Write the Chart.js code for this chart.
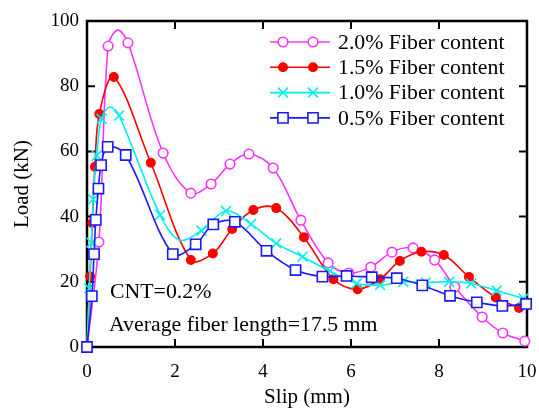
<!DOCTYPE html>
<html>
<head>
<meta charset="utf-8">
<script src="https://cdn.jsdelivr.net/npm/chart.js@4.4.0/dist/chart.umd.min.js"></script>
<style>
  html, body { margin: 0; padding: 0; background: #fff; }
  #wrap { width: 539px; height: 412px; }
</style>
</head>
<body>
<div id="wrap"><canvas id="chart" width="539" height="412"></canvas></div>
<script>
// values
const seriesNames = ['2.0% Fiber content', '1.5% Fiber content', '1.0% Fiber content', '0.5% Fiber content'];

const slip20 = [0, 0.27, 0.48, 0.7, 0.93, 1.73, 2.36, 2.82, 3.25, 3.68, 4.23, 4.86, 5.48, 5.95, 6.45, 6.93, 7.41, 7.9, 8.36, 8.98, 9.45, 9.95];
const load20 = [0, 32.2, 92.3, 97.2, 93.3, 59.5, 47.2, 50, 56.1, 59.2, 54.9, 38.9, 25.8, 22.7, 24.5, 29.1, 30.4, 26.7, 18.4, 9.2, 4.3, 1.8];
const plain20 = [0, 3]; // points on the curve without a marker

const slip15 = [0, 0.07, 0.12, 0.18, 0.28, 0.61, 1.45, 2.36, 2.86, 3.3, 3.78, 4.3, 4.93, 5.6, 6.15, 6.66, 7.11, 7.6, 8.11, 8.68, 9.29, 9.82];
const load15 = [0, 21.6, 38, 55.3, 71.5, 82.8, 56.5, 26.7, 28.7, 36.2, 42, 42.6, 33.7, 20.8, 17.7, 20.8, 26.4, 29.2, 28.2, 21.5, 15.2, 12];
const plain15 = [0];

const slip10 = [0, 0.05, 0.1, 0.14, 0.22, 0.33, 0.52, 0.73, 1.66, 2.1, 2.6, 3.16, 3.73, 4.3, 4.9, 5.52, 6.13, 6.66, 7.19, 7.7, 8.23, 8.73, 9.31, 9.92];
const load10 = [0, 18, 32, 45.3, 58.7, 70, 73.6, 71, 40.5, 32.8, 35.7, 41.7, 37.7, 31.8, 27.7, 23.3, 19.5, 19, 20, 19.8, 20, 19.5, 17.3, 14.9];
const plain10 = [0, 6, 9];

const slip05 = [0, 0.11, 0.16, 0.2, 0.26, 0.32, 0.47, 0.88, 1.95, 2.47, 2.87, 3.36, 4.08, 4.74, 5.35, 5.9, 6.47, 7.04, 7.62, 8.25, 8.86, 9.44, 9.98];
const load05 = [0, 15.6, 28.5, 39, 48.6, 55.8, 61.4, 58.9, 28.5, 31.5, 37.6, 38.4, 29.5, 23.6, 21.6, 21.8, 21.4, 21.1, 18.9, 15.7, 13.7, 12.6, 13.2];
const plain05 = [];

const xTicks = [0, 2, 4, 6, 8, 10];
const yTicks = [0, 20, 40, 60, 80, 100];

const serif = "'Liberation Serif', 'Times New Roman', serif";

function pts(xs, ys) {
  return xs.map((x, i) => ({ x: x, y: ys[i] }));
}

function markerRadius(plain, r) {
  return ctx => plain.includes(ctx.dataIndex) ? 0 : r;
}

const styles = [
  { color: '#ff33ff', pointStyle: 'circle', radius: 4.8, fill: '#ffffff', plain: plain20, xs: slip20, ys: load20, order: 3 },
  { color: '#ff0000', pointStyle: 'circle', radius: 4.2, fill: '#ff0000', plain: plain15, xs: slip15, ys: load15, order: 2 },
  { color: '#00f0f0', pointStyle: 'crossRot', radius: 7, fill: '#00f0f0', plain: plain10, xs: slip10, ys: load10, order: 1 },
  { color: '#1a1aff', pointStyle: 'rect', radius: 7.2, fill: '#ffffff', plain: plain05, xs: slip05, ys: load05, order: 0 }
];

const datasets = styles.map((s, i) => ({
  label: seriesNames[i],
  data: pts(s.xs, s.ys),
  borderColor: s.color,
  borderWidth: 1.6,
  backgroundColor: s.fill,
  pointStyle: s.pointStyle,
  pointRadius: markerRadius(s.plain, s.radius),
  pointBorderColor: s.color,
  pointBackgroundColor: s.fill,
  pointBorderWidth: 1.6,
  tension: 0.35,
  clip: false,
  order: s.order
}));

function drawMarker(ctx, s, x, y) {
  ctx.save();
  ctx.strokeStyle = s.color;
  ctx.fillStyle = s.fill;
  ctx.lineWidth = 1.6;
  ctx.beginPath();
  if (s.pointStyle === 'circle') {
    ctx.arc(x, y, s.radius, 0, Math.PI * 2);
    ctx.fill();
    ctx.stroke();
  } else if (s.pointStyle === 'rect') {
    const h = s.radius * Math.SQRT1_2;
    ctx.rect(x - h, y - h, 2 * h, 2 * h);
    ctx.fill();
    ctx.stroke();
  } else {
    const h = s.radius * Math.SQRT1_2;
    ctx.moveTo(x - h, y - h); ctx.lineTo(x + h, y + h);
    ctx.moveTo(x - h, y + h); ctx.lineTo(x + h, y - h);
    ctx.stroke();
  }
  ctx.restore();
}

// frame with inward ticks on all four sides
const framePlugin = {
  id: 'frame',
  beforeDatasetsDraw(chart) {
    const { ctx, chartArea: a, scales } = chart;
    ctx.save();
    ctx.strokeStyle = '#000';
    ctx.lineWidth = 2.5;
    ctx.strokeRect(a.left, a.top, a.right - a.left, a.bottom - a.top);
    ctx.lineWidth = 2;
    ctx.beginPath();
    xTicks.forEach(v => {
      const px = scales.x.getPixelForValue(v);
      ctx.moveTo(px, a.bottom); ctx.lineTo(px, a.bottom - 8);
      ctx.moveTo(px, a.top); ctx.lineTo(px, a.top + 8);
    });
    yTicks.forEach(v => {
      const py = scales.y.getPixelForValue(v);
      ctx.moveTo(a.left, py); ctx.lineTo(a.left + 8, py);
      ctx.moveTo(a.right, py); ctx.lineTo(a.right - 8, py);
    });
    ctx.stroke();
    ctx.restore();
  },
  afterDraw(chart) {
    const ctx = chart.ctx;
    ctx.save();
    ctx.font = '21.8px ' + serif;
    ctx.fillStyle = '#000';
    ctx.textBaseline = 'middle';
    ctx.textAlign = 'left';
    // legend
    styles.forEach((s, i) => {
      const y = 42 + i * 25.3;
      ctx.strokeStyle = s.color;
      ctx.lineWidth = 1.6;
      ctx.beginPath();
      ctx.moveTo(270, y); ctx.lineTo(330, y);
      ctx.stroke();
      drawMarker(ctx, s, 283, y);
      drawMarker(ctx, s, 313, y);
      ctx.fillText(seriesNames[i], 338, y + 1);
    });
    // notes
    ctx.fillText('CNT=0.2%', 110, 292);
    ctx.fillText('Average fiber length=17.5 mm', 109, 325);
    ctx.restore();
  }
};

new Chart(document.getElementById('chart'), {
  type: 'line',
  data: { datasets: datasets },
  plugins: [framePlugin],
  options: {
    responsive: false,
    animation: false,
    layout: { padding: { top: 21, right: 12, left: 0, bottom: 0 } },
    plugins: { legend: { display: false }, tooltip: { enabled: false } },
    scales: {
      x: {
        type: 'linear',
        min: 0, max: 10,
        afterFit: s => { s.height = 65; s.paddingLeft = 0; s.paddingRight = 0; },
        afterBuildTicks: s => { s.ticks = xTicks.map(v => ({ value: v })); },
        grid: { display: false, drawTicks: false },
        border: { display: false },
        ticks: { color: '#000', padding: 14, font: { family: serif, size: 19 }, maxRotation: 0 },
        title: { display: true, text: 'Slip (mm)', color: '#000', font: { family: serif, size: 21 }, padding: { top: 0, bottom: 2 } }
      },
      y: {
        min: 0, max: 100,
        afterFit: s => { s.width = 87; },
        afterBuildTicks: s => { s.ticks = yTicks.map(v => ({ value: v })); },
        grid: { display: false, drawTicks: false },
        border: { display: false },
        ticks: { color: '#000', padding: 8, font: { family: serif, size: 19 } },
        title: { display: true, text: 'Load (kN)', color: '#000', font: { family: serif, size: 21 }, padding: { top: 10, bottom: 0 } }
      }
    }
  }
});
</script>
</body>
</html>
